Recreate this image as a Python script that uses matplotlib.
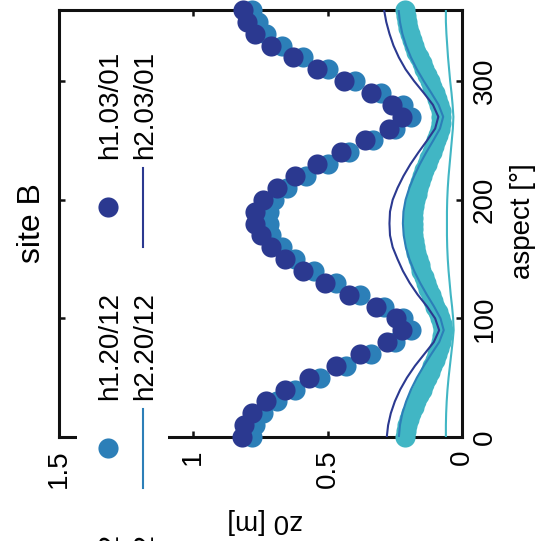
import matplotlib
matplotlib.use("Agg")
import matplotlib.pyplot as plt
from matplotlib.lines import Line2D
from matplotlib.patches import Rectangle

plt.rcParams['font.family'] = ['Liberation Sans', 'DejaVu Sans']

# aspect grids [deg]
aspect_10 = list(range(0, 361, 10))
aspect_5 = list(range(0, 361, 5))

# h1.03/01 (dark markers), z0 [m] at 10 deg steps
dark_pts = [0.82, 0.81, 0.78, 0.73, 0.66, 0.57, 0.47, 0.38, 0.28, 0.225,
            0.245, 0.32, 0.42, 0.51, 0.59, 0.66, 0.71, 0.75, 0.77, 0.77,
            0.74, 0.69, 0.62, 0.54, 0.45, 0.36, 0.27, 0.225, 0.26, 0.34,
            0.44, 0.54, 0.63, 0.71, 0.77, 0.80, 0.816]
# h1.20/12 (medium blue markers)
blue_pts = [0.78, 0.77, 0.74, 0.69, 0.62, 0.53, 0.43, 0.34, 0.25, 0.19,
            0.22, 0.29, 0.38, 0.47, 0.55, 0.62, 0.67, 0.71, 0.72, 0.72,
            0.70, 0.65, 0.58, 0.50, 0.42, 0.33, 0.25, 0.19, 0.22, 0.30,
            0.40, 0.50, 0.59, 0.67, 0.73, 0.76, 0.78]
# h1.06/12 (teal markers), 5 deg steps
teal_pts = [0.214, 0.209, 0.203, 0.196, 0.188, 0.179, 0.17, 0.16, 0.15, 0.14,
            0.13, 0.12, 0.11, 0.101, 0.093, 0.085, 0.078, 0.073, 0.071, 0.075,
            0.082, 0.09, 0.099, 0.108, 0.117, 0.126, 0.135, 0.143, 0.151, 0.158,
            0.164, 0.17, 0.175, 0.179, 0.182, 0.184, 0.184, 0.183, 0.181, 0.178,
            0.174, 0.169, 0.163, 0.156, 0.148, 0.14, 0.131, 0.122, 0.113, 0.104,
            0.096, 0.089, 0.083, 0.079, 0.077, 0.08, 0.086, 0.093, 0.101, 0.11,
            0.12, 0.13, 0.14, 0.15, 0.16, 0.17, 0.179, 0.187, 0.194, 0.2,
            0.205, 0.21, 0.214]

# h2 lines, 10 deg steps
dark_line = [0.28, 0.275, 0.265, 0.25, 0.23, 0.205, 0.175, 0.14, 0.105, 0.085,
             0.1, 0.13, 0.165, 0.195, 0.22, 0.24, 0.258, 0.268, 0.27, 0.268,
             0.258, 0.24, 0.218, 0.192, 0.162, 0.13, 0.1, 0.088, 0.108, 0.142,
             0.178, 0.21, 0.235, 0.255, 0.27, 0.282, 0.29]
blue_line = [0.235, 0.231, 0.222, 0.208, 0.19, 0.168, 0.142, 0.114, 0.085, 0.068,
             0.08, 0.104, 0.131, 0.156, 0.178, 0.196, 0.209, 0.217, 0.22, 0.218,
             0.21, 0.196, 0.178, 0.157, 0.133, 0.107, 0.082, 0.07, 0.087, 0.114,
             0.142, 0.168, 0.19, 0.208, 0.222, 0.231, 0.236]
teal_line = [0.06, 0.06, 0.059, 0.057, 0.054, 0.05, 0.045, 0.04, 0.035, 0.031,
             0.033, 0.037, 0.042, 0.046, 0.05, 0.053, 0.055, 0.056, 0.056, 0.056,
             0.055, 0.053, 0.05, 0.046, 0.042, 0.038, 0.034, 0.032, 0.035, 0.039,
             0.044, 0.048, 0.052, 0.055, 0.058, 0.06, 0.06]

h1_labels = ['h1.06/12', 'h1.20/12', 'h1.03/01']
h2_labels = ['h2.06/12', 'h2.20/12', 'h2.03/01']
colors = ['#41b6c4', '#2c7fb8', '#2b3990']

z0_ticks = [0, 0.5, 1, 1.5]
z0_ticklabels = ['0', '0.5', '1', '1.5']
aspect_ticks = [0, 100, 200, 300]

W = H = 541
fig = plt.figure(figsize=(W / 100, H / 100), dpi=100)


def fx(x):
    return x / W


def fy(y):
    return 1 - y / H


# the whole chart is turned a quarter turn: z0 runs right->left, aspect bottom->top
ax = fig.add_axes([fx(59), fy(437), fx(462) - fx(59), fy(10) - fy(437)])

ms = 14.5
ax.plot(teal_pts, aspect_5, 'o', ms=ms, color=colors[0], mec='none', clip_on=False, zorder=3)
ax.plot(teal_line, aspect_10, '-', lw=1.5, color=colors[0], zorder=3)
ax.plot(blue_pts, aspect_10, 'o', ms=ms, color=colors[1], mec='none', clip_on=False, zorder=3)
ax.plot(blue_line, aspect_10, '-', lw=1.5, color=colors[1], zorder=3)
ax.plot(dark_pts, aspect_10, 'o', ms=ms, color=colors[2], mec='none', clip_on=False, zorder=3)
ax.plot(dark_line, aspect_10, '-', lw=1.5, color=colors[2], zorder=3)

ax.set_xlim(1.5, 0)
ax.set_ylim(0, 360)
ax.set_xticks(z0_ticks, labels=z0_ticklabels)
ax.set_yticks(aspect_ticks)

for s in ax.spines.values():
    s.set_linewidth(2.2)
    s.set_color('#111111')
ax.tick_params(direction='in', length=4.5, width=1.8, color='#111111',
               top=True, bottom=True, left=True, right=True,
               labelleft=False, labelright=True, labelsize=20, labelrotation=90)
ax.tick_params(axis='x', pad=9)
ax.tick_params(axis='y', pad=7)
for t in ax.yaxis.get_major_ticks():
    t.label2.set_va('center')

ax.set_xlabel('z0 [m]', rotation=180, fontsize=20, va='center')
ax.xaxis.set_label_coords((265 - 59) / 403, (437 - 521) / 427)
ax.yaxis.set_label_position('right')
ax.set_ylabel('aspect [°]', rotation=90, fontsize=20, va='center')
ax.yaxis.set_label_coords((523 - 59) / 403, (437 - 221) / 427)
ax.text((32 - 59) / 403, 0.5, 'site B', transform=ax.transAxes, rotation=90,
        ha='center', va='center', fontsize=23)

# legend (white box covers the axis line, runs off the bottom edge)
fig.add_artist(Rectangle((fx(77), fy(620)), fx(168) - fx(77), fy(30) - fy(620),
                         transform=fig.transFigure, facecolor='white',
                         edgecolor='none', zorder=5))
col_y = [689, 448, 207]
for k in range(3):
    yc = col_y[k]
    fig.add_artist(Line2D([fx(108)], [fy(yc)], marker='o', ms=ms, color=colors[k],
                          mec='none', ls='none', transform=fig.transFigure, zorder=6))
    fig.add_artist(Line2D([fx(143), fx(143)], [fy(yc - 39), fy(yc + 40)], lw=1.5,
                          color=colors[k], transform=fig.transFigure, zorder=6))
    fig.text(fx(110), fy(yc - 48), h1_labels[k], rotation=90, ha='center',
             va='bottom', fontsize=20, zorder=7)
    fig.text(fx(145), fy(yc - 48), h2_labels[k], rotation=90, ha='center',
             va='bottom', fontsize=20, zorder=7)

fig.savefig('out.png', dpi=100)
